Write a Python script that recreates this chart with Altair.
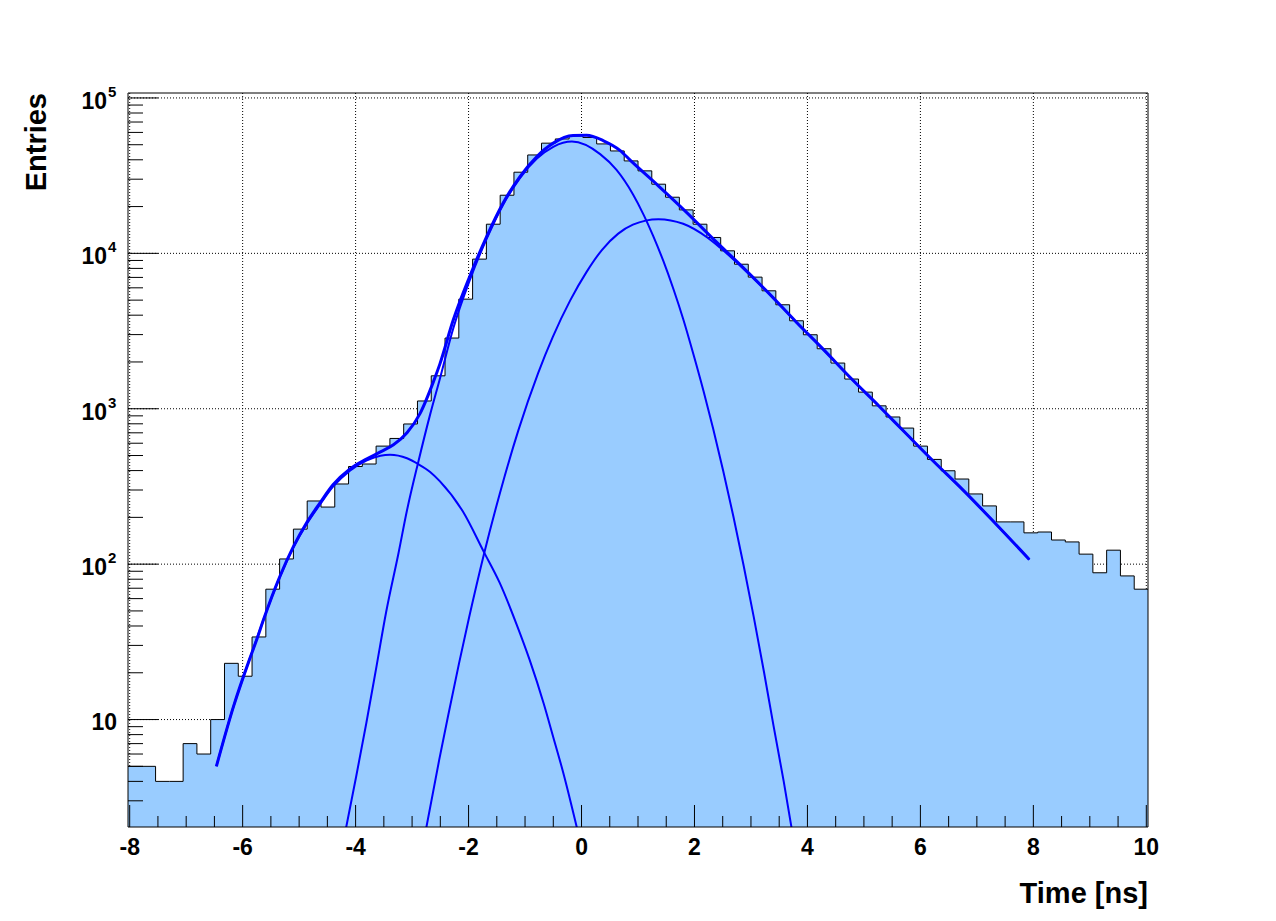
import altair as alt
import numpy as np
import pandas as pd

# ---------------- data ----------------
hist_xmin = -8.03
hist_xmax = 10.03
counts = [5, 5, 4, 4, 7, 6, 10, 23, 19, 34,
          69, 108, 168, 255, 233, 328, 425, 441, 575, 644,
          798, 1122, 1629, 2851, 5073, 9180, 15400, 23660, 33270, 42960,
          51170, 54470, 57000, 55700, 50600, 45600, 39340, 33940, 27860, 22970,
          19040, 15400, 12650, 10380, 8510, 7030, 5740, 4667, 3682, 2993,
          2433, 1968, 1553, 1279, 1044, 885, 751, 575, 472, 399,
          353, 283, 237, 187, 187, 159, 161, 143, 139, 116,
          88, 123, 84, 69]

total_x = [-6.465, -6.16, -5.88, -5.75, -5.63, -5.34, -5.10, -4.87, -4.63, -4.40,
           -4.10, -3.80, -3.56, -3.33, -3.09, -2.86, -2.62, -2.51, -2.27, -1.98,
           -1.68, -1.39, -1.09, -0.79, -0.50, -0.15, 0.09, 0.39, 0.68, 0.87,
           1.36, 1.85, 2.34, 2.83, 3.31, 3.80, 4.29, 4.78, 5.27, 5.75,
           6.24, 6.73, 7.32, 7.93]
total_y = [5.0, 12.2, 24.3, 32.7, 44, 83.5, 130, 184, 248, 324,
           410, 476, 528, 586, 700, 930, 1500, 1930, 3733, 7093,
           12830, 21030, 31200, 42000, 51200, 57300, 57500, 53000, 46000, 39500,
           27200, 18500, 12300, 8310, 5570, 3620, 2393, 1560, 1038, 690,
           456, 306, 184, 107]

compA_x = [-6.465, -6.16, -5.88, -5.63, -5.34, -5.10, -4.87, -4.63, -4.40, -4.10,
           -3.80, -3.56, -3.39, -3.09, -2.89, -2.68, -2.51, -2.10, -1.73, -1.45,
           -1.15, -0.92, -0.67, -0.50, -0.32, -0.08]
compA_y = [5.0, 12.2, 24.3, 44, 83, 128, 180, 242, 315, 400,
           466, 499, 506, 480, 440, 392, 342, 218, 120, 76,
           41, 24.3, 12.7, 7.7, 4.5, 2.0]

compB_x = [-4.17, -3.99, -3.81, -3.63, -3.46, -3.24, -3.09, -2.89, -2.68, -2.51,
           -2.27, -1.98, -1.68, -1.39, -1.09, -0.79, -0.50, -0.17, 0.33, 0.62,
           0.91, 1.10, 1.27, 1.45, 1.63, 1.80, 1.98, 2.16, 2.33, 2.51,
           2.69, 2.87, 3.05, 3.23, 3.40, 3.58, 3.72]
compB_y = [2.0, 4.3, 9.5, 22, 49, 118, 222, 455, 920, 1550,
           3300, 6700, 12400, 20500, 30500, 40700, 48500, 52400, 43500, 34400,
           24000, 17700, 12900, 8900, 5850, 3780, 2250, 1300, 746, 396,
           202, 98, 45.6, 20.3, 9.1, 4.0, 2.0]

compC_x = [-2.75, -2.52, -2.35, -2.17, -1.99, -1.73, -1.45, -1.12, -0.77, -0.51,
           -0.20, 0.09, 0.36, 0.65, 0.91, 1.36, 1.80, 2.22, 2.45, 2.83,
           3.31, 3.80, 4.29, 4.78, 5.27, 5.75, 6.24, 6.73, 7.32, 7.93]
compC_y = [2.0, 5.5, 11.1, 22.9, 45.5, 115, 282, 723, 1690, 2890,
           4980, 7600, 10500, 13400, 15300, 16600, 15500, 12700, 10900, 8200,
           5550, 3610, 2390, 1560, 1038, 690, 456, 306, 184, 107]

x_major = [-8, -6, -4, -2, 0, 2, 4, 6, 8, 10]
x_major_labels = ["-8", "-6", "-4", "-2", "0", "2", "4", "6", "8", "10"]
x_minor = [-7.5, -7, -6.5, -5.5, -5, -4.5, -3.5, -3, -2.5, -1.5, -1, -0.5,
           0.5, 1, 1.5, 2.5, 3, 3.5, 4.5, 5, 5.5, 6.5, 7, 7.5, 8.5, 9, 9.5]
y_major = [10, 100, 1000, 10000, 100000]
y_exp_vals = [100, 1000, 10000, 100000]
y_exp_labels = ["2", "3", "4", "5"]
y_minor = [3, 4, 5, 6, 7, 8, 9,
           20, 30, 40, 50, 60, 70, 80, 90,
           200, 300, 400, 500, 600, 700, 800, 900,
           2000, 3000, 4000, 5000, 6000, 7000, 8000, 9000,
           20000, 30000, 40000, 50000, 60000, 70000, 80000, 90000]
x_title = "Time [ns]"
y_title = "Entries"

# ---------------- layout ----------------
W, H = 1020, 734
FONT = "Liberation Sans"
BLUE = "#0000ff"
y_lo, y_hi = 2.035, 107600

xscale = alt.Scale(domain=[hist_xmin, hist_xmax], nice=False, zero=False)
yscale = alt.Scale(type="log", domain=[y_lo, y_hi], nice=False)


def X(f):
    return alt.X(f, type="quantitative", scale=xscale, axis=None)


def Y(f):
    return alt.Y(f, type="quantitative", scale=yscale, axis=None)


edges = np.linspace(hist_xmin, hist_xmax, len(counts) + 1)
hist_df = pd.DataFrame({"x": edges, "y": counts + [counts[-1]]})

grid_x = alt.Chart(pd.DataFrame({"v": x_major})).mark_rule(
    color="black", strokeWidth=1, strokeDash=[1, 2]
).encode(x=X("v"), y=alt.value(0), y2=alt.value(H))
grid_y = alt.Chart(pd.DataFrame({"v": y_major})).mark_rule(
    color="black", strokeWidth=1, strokeDash=[1, 2]
).encode(y=Y("v"), x=alt.value(0), x2=alt.value(W))

fill = alt.Chart(hist_df).mark_area(
    interpolate="step-after", color="#99ccff", opacity=1, clip=True
).encode(x=X("x"), y=Y("y"), y2=alt.datum(y_lo))
outline = alt.Chart(hist_df).mark_line(
    interpolate="step-after", color="black", strokeWidth=1, clip=True
).encode(x=X("x"), y=Y("y"))


def curve(xs, ys, width):
    return alt.Chart(pd.DataFrame({"x": xs, "y": ys})).mark_line(
        interpolate="monotone", color=BLUE, strokeWidth=width, clip=True
    ).encode(x=X("x"), y=Y("y"))


cA = curve(compA_x, compA_y, 2)
cB = curve(compB_x, compB_y, 2)
cC = curve(compC_x, compC_y, 2)
cT = curve(total_x, total_y, 3)

tick_xM = alt.Chart(pd.DataFrame({"v": x_major})).mark_rule(color="black", strokeWidth=1).encode(
    x=X("v"), y=alt.value(H), y2=alt.value(H - 22))
tick_xm = alt.Chart(pd.DataFrame({"v": x_minor})).mark_rule(color="black", strokeWidth=1).encode(
    x=X("v"), y=alt.value(H), y2=alt.value(H - 11))
tick_yM = alt.Chart(pd.DataFrame({"v": y_major})).mark_rule(color="black", strokeWidth=1).encode(
    y=Y("v"), x=alt.value(0), x2=alt.value(30))
tick_ym = alt.Chart(pd.DataFrame({"v": y_minor})).mark_rule(color="black", strokeWidth=1, clip=True).encode(
    y=Y("v"), x=alt.value(0), x2=alt.value(15))

frame = alt.Chart(pd.DataFrame({"a": [0]})).mark_rect(
    filled=False, stroke="black", strokeWidth=1
).encode(x=alt.value(0), x2=alt.value(W), y=alt.value(0), y2=alt.value(H))

xlab = alt.Chart(pd.DataFrame({"v": x_major, "t": x_major_labels})).mark_text(
    font=FONT, fontWeight="bold", fontSize=23, align="center", baseline="alphabetic", color="black"
).encode(x=X("v"), y=alt.value(H + 28), text="t")

ylab_base = alt.Chart(pd.DataFrame({"v": y_exp_vals, "t": ["10"] * len(y_exp_vals)})).mark_text(
    font=FONT, fontWeight="bold", fontSize=23, align="right", baseline="alphabetic", color="black", dy=11
).encode(y=Y("v"), x=alt.value(-21), text="t")
ylab_exp = alt.Chart(pd.DataFrame({"v": y_exp_vals, "t": y_exp_labels})).mark_text(
    font=FONT, fontWeight="bold", fontSize=15, align="left", baseline="alphabetic", color="black", dy=-1
).encode(y=Y("v"), x=alt.value(-20), text="t")
ylab_ten = alt.Chart(pd.DataFrame({"v": [10], "t": ["10"]})).mark_text(
    font=FONT, fontWeight="bold", fontSize=23, align="right", baseline="alphabetic", color="black", dy=10
).encode(y=Y("v"), x=alt.value(-11), text="t")

xt = alt.Chart(pd.DataFrame({"t": [x_title]})).mark_text(
    font=FONT, fontWeight="bold", fontSize=29, align="right", baseline="alphabetic", color="black"
).encode(x=alt.value(W), y=alt.value(H + 76), text="t")
yt = alt.Chart(pd.DataFrame({"t": [y_title]})).mark_text(
    font=FONT, fontWeight="bold", fontSize=29, align="right", baseline="alphabetic", color="black", angle=270
).encode(x=alt.value(-82), y=alt.value(0), text="t")

chart = alt.layer(
    grid_x, grid_y, fill, outline, cA, cB, cC, cT,
    tick_xM, tick_xm, tick_yM, tick_ym, frame,
    xlab, ylab_base, ylab_exp, ylab_ten, xt, yt
).properties(
    width=W, height=H,
    padding={"left": 120, "top": 85, "right": 120, "bottom": 86},
    autosize=alt.AutoSizeParams(type="none"),
    background="white",
).configure_view(strokeWidth=0)

chart.save("out.html", embed_options={"renderer": "svg", "actions": False})
